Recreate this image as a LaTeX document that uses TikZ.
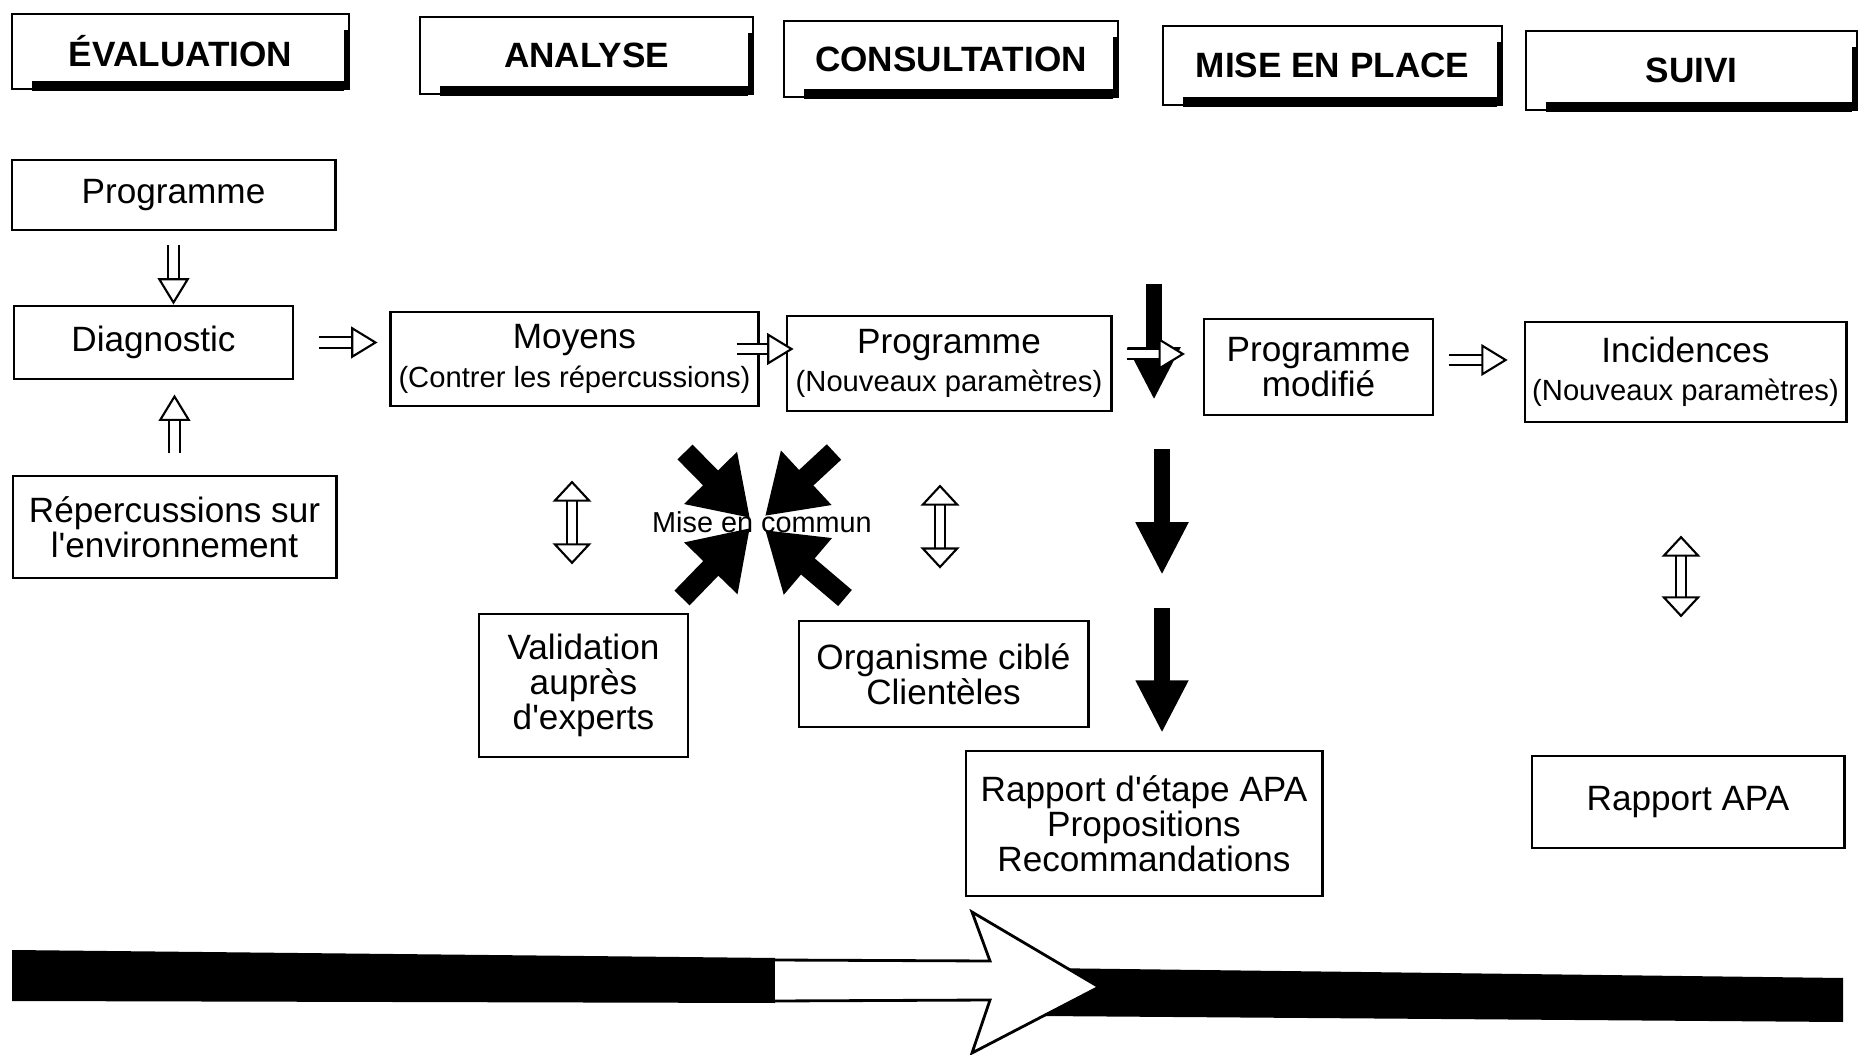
\documentclass[tikz,border=0pt]{standalone}
\usepackage{fontspec}
\setmainfont{Liberation Sans}
\usepackage{tikz}
\usetikzlibrary{arrows.meta,calc}

\tikzset{
  titre/.style={draw, line width=0.6pt, inner sep=0pt, font=\bfseries\fontsize{10}{12}\selectfont},
  boite/.style={draw, line width=0.8pt, inner sep=0pt, align=center, font=\fontsize{10}{9.9}\selectfont},
  creux/.style={double=white, double distance=2.4pt, line width=0.6pt,
    -{Triangle[fill=white, line width=0.6pt, length=7.5pt, width=9pt]}},
  creuxdeux/.style={double=white, double distance=2.2pt, line width=0.6pt,
    {Triangle[fill=white, line width=0.6pt, length=6pt, width=11pt]}-{Triangle[fill=white, line width=0.6pt, length=6pt, width=11pt]}},
  plein/.style={line width=4.3pt, -{Triangle[length=15pt, width=14pt]}},
  convergent/.style={line width=6pt, -{Triangle[length=16pt, width=20pt]}}
}
\newcommand{\sous}[1]{{\fontsize{8.3}{9}\selectfont #1}}
\newcommand{\ombre}[1]{%
  \draw[line width=2.8pt] ([xshift=6pt,yshift=1.1pt]#1.south west) -- ([xshift=-1.8pt,yshift=1.1pt]#1.south east);
  \draw[line width=1.8pt] ([xshift=-0.9pt]#1.south east) -- ([xshift=-0.9pt,yshift=-5pt]#1.north east);}

\begin{document}
\begin{tikzpicture}[x=0.01cm, y=-0.01cm]
\useasboundingbox (0,0) rectangle (1869,1055);

% en-tetes
\node[titre, minimum width=3.37cm, minimum height=0.75cm] (evalh) at (180.5,51.5) {ÉVALUATION};
\node[titre, minimum width=3.33cm, minimum height=0.77cm] (analh) at (586.5,55.5) {ANALYSE};
\node[titre, minimum width=3.34cm, minimum height=0.76cm] (consh) at (951,59) {CONSULTATION};
\node[titre, minimum width=3.39cm, minimum height=0.79cm] (miseh) at (1332.5,65.5) {MISE EN PLACE};
\node[titre, minimum width=3.31cm, minimum height=0.79cm] (suivh) at (1691.5,70.5) {SUIVI};
\ombre{evalh}
\ombre{analh}
\ombre{consh}
\ombre{miseh}
\ombre{suivh}

% boites
\node[boite, minimum width=3.23cm, minimum height=0.70cm] (progA) at (173.5,195) {Programme};
\node[boite, minimum width=2.79cm, minimum height=0.73cm] (diag) at (153.5,342.5) {Diagnostic};
\node[boite, minimum width=3.23cm, minimum height=1.02cm] (reperc) at (174.5,527) {Répercussions sur\\l\textquotesingle environnement};
\node[boite, minimum width=3.67cm, minimum height=0.94cm] (moyens) at (574.5,359) {Moyens\\[1pt]\sous{(Contrer les répercussions)}};
\node[boite, minimum width=3.24cm, minimum height=0.95cm] (progB) at (949,363.5) {Programme\\[1pt]\sous{(Nouveaux paramètres)}};
\node[boite, minimum width=2.29cm, minimum height=0.96cm] (progmod) at (1318.5,367) {Programme\\modifié};
\node[boite, minimum width=3.21cm, minimum height=1.00cm] (incid) at (1685.5,372) {Incidences\\[1pt]\sous{(Nouveaux paramètres)}};
\node[boite, minimum width=2.09cm, minimum height=1.43cm] (valid) at (583.5,685.5) {Validation\\auprès\\d\textquotesingle experts};
\node[boite, minimum width=2.89cm, minimum height=1.06cm] (organ) at (943.5,674) {Organisme ciblé\\Clientèles};
\node[boite, minimum width=3.56cm, minimum height=1.45cm] (rapetape) at (1144,823.5) {Rapport d\textquotesingle étape APA\\Propositions\\Recommandations};
\node[boite, minimum width=3.12cm, minimum height=0.92cm] (rapapa) at (1688,802) {Rapport APA};

% fleches creuses
\draw[creux, shorten <=4pt] (progA.south) -- (progA.south |- diag.north);
\draw[creux, shorten <=6pt, shorten >=4pt] (reperc.north) -- (reperc.north |- diag.south);
\draw[creux, shorten <=7pt, shorten >=3.4pt] (diag.east) -- (diag.east -| moyens.west);
\coordinate (m1) at ($(moyens.east)+(-23,-10)$);
\draw[creux, shorten >=-2.3pt] (m1) -- (m1 -| progB.west);

% mise en place
\coordinate (f1a) at (1154,284);
\coordinate (f1b) at (1154,400);
\coordinate (f2a) at (1162,449);
\coordinate (f2b) at (1162,575);
\coordinate (f3a) at (1162,608);
\coordinate (f3b) at (1162,733);
\draw[plein] (f1a) -- (f1b);
\draw[plein] (f2a) -- (f2b);
\draw[plein] (f3a) -- (f3b);
\coordinate (p1) at ($(progB.east)+(14,-9.5)$);
\draw[creux, shorten >=5pt] (p1) -- (p1 -| progmod.west);
\coordinate (p2) at ($(progmod.east)+(15,-7)$);
\draw[creux, shorten >=4.5pt] (p2) -- (p2 -| incid.west);

% fleches doubles
\coordinate (d1) at ($(moyens.south)+(-2.5,0)$);
\draw[creuxdeux, shorten <=20.8pt, shorten >=13.7pt] (d1) -- (d1 |- valid.north);
\coordinate (d2) at ($(progB.south)+(-9,0)$);
\draw[creuxdeux, shorten <=20.5pt, shorten >=14.5pt] (d2) -- (d2 |- organ.north);
\coordinate (d3) at ($(incid.south)+(-4.5,0)$);
\draw[creuxdeux, shorten <=31.9pt, shorten >=39pt] (d3) -- (d3 |- rapapa.north);

% mise en commun
\coordinate (centre) at (757,522);
\coordinate (hg) at (685,452);
\coordinate (hd) at (834,452);
\coordinate (bg) at (682,598);
\coordinate (bd) at (845,598);
\draw[convergent] (hg) -- ($(centre)+(-7,-4)$);
\draw[convergent] (hd) -- ($(centre)+(8,-6)$);
\draw[convergent] (bg) -- ($(centre)+(-7,6)$);
\draw[convergent] (bd) -- ($(centre)+(8,8)$);
\node[font=\fontsize{8.2}{10}\selectfont] (commun) at (762,522) {Mise en commun};

% grande fleche du bas
\fill (12,950) -- (775,958) -- (775,1003) -- (12,1001) -- cycle;
\fill (1040,968) -- (1843,978) -- (1843,1022) -- (1040,1016) -- cycle;
\filldraw[fill=white, line width=0.8pt] (775,960) -- (990,961) -- (972,912) -- (1099,987) -- (972,1053) -- (990,1000) -- (775,1001);

\end{tikzpicture}
\end{document}
